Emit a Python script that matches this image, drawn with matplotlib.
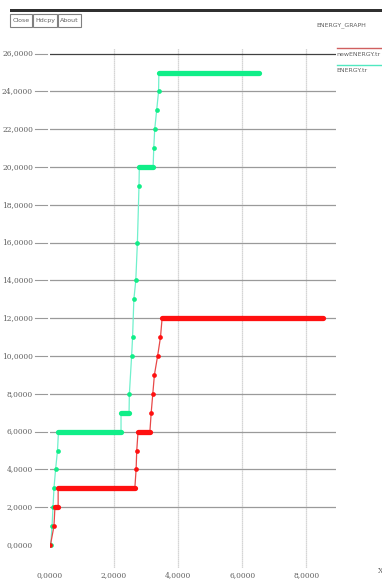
import matplotlib
matplotlib.use("Agg")
import matplotlib.pyplot as plt
from matplotlib.patches import Rectangle
from matplotlib.lines import Line2D

W, H = 382, 585

# ENERGY.tr  (single samples + flat runs)
energy_x = [0.03, 0.07, 0.10, 0.13, 0.18, 0.24, 2.48, 2.55, 2.58, 2.62, 2.68, 2.73, 2.78, 3.24, 3.27, 3.33, 3.39]
energy_y = [0, 1, 2, 3, 4, 5, 8, 10, 11, 13, 14, 16, 19, 21, 22, 23, 24]
energy_flat_y = [6, 7, 20, 25]
energy_flat_from = [0.27, 2.22, 2.79, 3.40]
energy_flat_to = [2.22, 2.47, 3.22, 6.53]

# newENERGY.tr
new_x = [0.02, 0.13, 2.69, 2.71, 3.16, 3.21, 3.26, 3.36, 3.45]
new_y = [0, 1, 4, 5, 7, 8, 9, 10, 11]
new_flat_y = [2, 3, 6, 12]
new_flat_from = [0.16, 0.26, 2.75, 3.50]
new_flat_to = [0.26, 2.65, 3.12, 8.50]

y_ticks = list(range(0, 27, 2))
x_ticks = [0, 2, 4, 6, 8]

XMIN, XMAX = 0.0, 8.92
YMIN, YMAX = -1.2, 26.3


def fx(px):
    return px / W


def fy(py):
    return 1 - py / H


def trace(xs, ys, fy_, f0, f1):
    pts = list(zip(xs, ys))
    for y, a, b in zip(fy_, f0, f1):
        pts += [(a, y), (b, y)]
    pts.sort()
    return [p[0] for p in pts], [p[1] for p in pts]


def draw_series(ax, xs, ys, flat_y, flat_from, flat_to, line_c, mark_c):
    tx, ty = trace(xs, ys, flat_y, flat_from, flat_to)
    ax.plot(tx, ty, color=line_c, lw=0.9, zorder=3)
    ax.plot(xs, ys, "o", color=mark_c, ms=3.4, mec="none", zorder=4)
    for y, a, b in zip(flat_y, flat_from, flat_to):
        ax.plot([a, b], [y, y], color=mark_c, lw=3.8, solid_capstyle="round", zorder=4)


fig = plt.figure(figsize=(W / 100, H / 100), dpi=100)
fig.patch.set_facecolor("white")

# plot area: x=0 at px 49.8, x=XMAX at px 336; y top px 48, bottom px 567.7
ax = fig.add_axes([fx(49.8), fy(567.7), (336 - 49.8) / W, (567.7 - 48) / H])
ax.set_xlim(XMIN, XMAX)
ax.set_ylim(YMIN, YMAX)
ax.axis("off")

for v in x_ticks[1:]:
    ax.plot([v, v], [YMIN, YMAX], color="#c8c8c8", lw=0.9, ls=(0, (1, 0.6)), zorder=1)
for v in y_ticks[1:]:
    c = "#404040" if v == 26 else "#9a9a9a"
    ax.plot([XMIN, XMAX], [v, v], color=c, lw=0.9, zorder=1)

draw_series(ax, energy_x, energy_y, energy_flat_y, energy_flat_from, energy_flat_to,
            "#70f0cc", "#10ee88")
draw_series(ax, new_x, new_y, new_flat_y, new_flat_from, new_flat_to,
            "#e84848", "#ff1010")

lab = dict(fontsize=5.4, color="#606060", family="DejaVu Serif")
small = dict(fontsize=4.5, color="#606060", family="DejaVu Sans")
for v in y_ticks:
    yy = 545 - v * 18.9
    fig.text(fx(33), fy(yy), f"{v},0000", ha="right", va="center", **lab)
    if v > 0:
        fig.add_artist(Line2D([fx(35), fx(47)], [fy(yy), fy(yy)], color="#9a9a9a", lw=0.8))
for v in x_ticks:
    fig.text(fx(49.8 + v * 32.1), fy(575), f"{v},0000", ha="center", va="center", **lab)
fig.text(fx(378), fy(571), "X", ha="left", va="center", **lab)

# window chrome: top bar and buttons
fig.add_artist(Rectangle((fx(10), fy(12)), 1, 3 / H, color="#303030", lw=0))
for x0, x1, name in [(10, 32, "Close"), (33, 57, "Hdcpy"), (58, 81, "About")]:
    fig.add_artist(Rectangle((fx(x0), fy(27)), (x1 - x0) / W, 13 / H,
                             facecolor="white", edgecolor="#808080", lw=0.8))
    fig.text(fx((x0 + x1) / 2), fy(20.5), name, ha="center", va="center", **small)

fig.text(fx(341), fy(25), "ENERGY_GRAPH", ha="center", va="center", **small)
fig.add_artist(Line2D([fx(337), fx(382)], [fy(48), fy(48)], color="#d06060", lw=1.0))
fig.text(fx(336), fy(55), "newENERGY.tr", ha="left", va="center", **small)
fig.add_artist(Line2D([fx(337), fx(382)], [fy(64.5), fy(64.5)], color="#50e8c0", lw=1.0))
fig.text(fx(336), fy(71), "ENERGY.tr", ha="left", va="center", **small)

fig.savefig("out.png", dpi=100)
